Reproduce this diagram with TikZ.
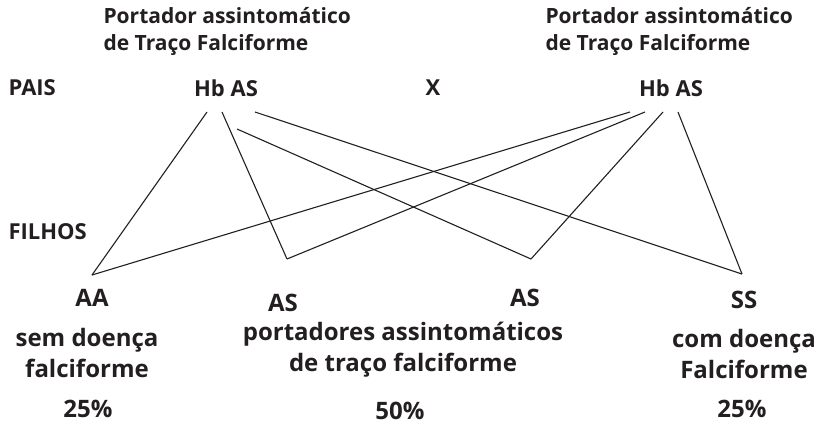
\documentclass[tikz,border=0pt]{standalone}
\usepackage{fontspec}
\setmainfont{Open Sans}
\usetikzlibrary{calc}
\definecolor{tinta}{RGB}{35,31,32}
\tikzset{
  titulo/.style={anchor=west,align=left,font=\bfseries\fontsize{21}{27}\selectfont},
  geracao/.style={font=\bfseries\fontsize{22}{22}\selectfont},
  filho/.style={font=\bfseries\fontsize{24}{31}\selectfont,align=center},
  pct/.style={font=\bfseries\fontsize{24}{24}\selectfont,anchor=base}
}
\begin{document}
\begin{tikzpicture}[x=1pt,y=-1pt,every node/.style={text=tinta,inner sep=0pt},line width=1.1pt]
\useasboundingbox (0,0) rectangle (817,424);
% pais
\node [titulo] (tituloL) at (103,31) {Portador assintomático\\de Traço Falciforme};
\node [titulo] (tituloR) at (545,31) {Portador assintomático\\de Traço Falciforme};
\node [geracao,anchor=west] (pais) at (8,88) {PAIS};
\node [geracao] (hbL) at (226,88) {Hb AS};
\node [geracao] (vezes) at (433,88) {X};
\node [geracao] (hbR) at (671,88) {Hb AS};
\node [geracao,anchor=west] (filhos) at (8,232) {FILHOS};
% gametas dos pais
\coordinate (L1) at (207,112);
\coordinate (L2) at (222,112);
\coordinate (L3) at (237,129);
\coordinate (L4) at (255,112);
\coordinate (R1) at (630,112);
\coordinate (R2) at (645,112);
\coordinate (R3) at (663,112);
\coordinate (R4) at (678,112);
% filhos
\coordinate (cAA) at (92,275);
\coordinate (cASa) at (287,259);
\coordinate (cASb) at (531,259);
\coordinate (cSS) at (742,274);
\foreach \a/\b in {L1/cAA,L2/cASa,L3/cASb,L4/cSS,R1/cAA,R2/cASa,R3/cASb,R4/cSS}
  \draw [tinta] (\a) -- (\b);
% legendas
\node [filho] (aa) at (92,298) {AA};
\node [filho] (semdoenca) at (87,353) {sem doença\\falciforme};
\node [pct] (pctAA) at (88,417) {25\%};
\node [filho] (asL) at (283,303) {AS};
\node [filho] (portadores) at (403,350) {portadores assintomáticos\\de traço falciforme};
\node [pct] (pctAS) at (400,419) {50\%};
\node [filho] (asR) at (525,298) {AS};
\node [filho] (ss) at (744,300) {SS};
\node [filho] (comdoenca) at (744,354) {com doença\\Falciforme};
\node [pct] (pctSS) at (742,417) {25\%};
\end{tikzpicture}
\end{document}
